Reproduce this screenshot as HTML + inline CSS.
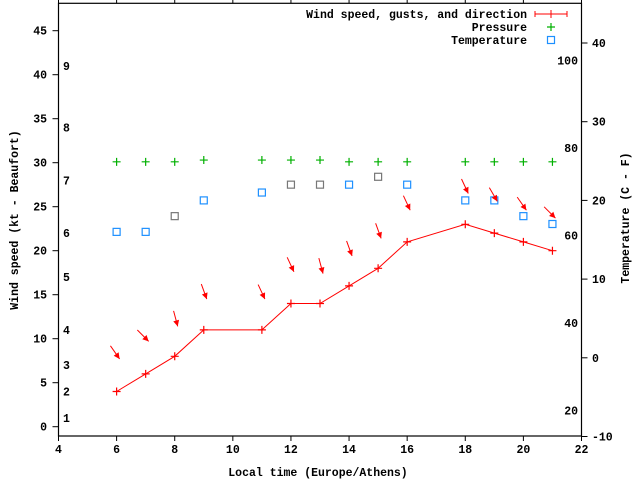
<!DOCTYPE html>
<html><head><meta charset="utf-8"><style>
body{margin:0;background:#fff}
svg{display:block}
text{font-family:"Liberation Mono",monospace;font-weight:bold;font-size:11.5px;fill:#000}
</style></head><body>
<svg id="c" width="640" height="480" xmlns="http://www.w3.org/2000/svg"></svg>
<script>
const hours=[6,7,8,9,11,12,13,14,15,16,18,19,20,21];
const windKt=[4,6,8,11,11,14,14,16,18,21,23,22,21,20];
const gustKt=[7.7,9.7,11.4,14.5,14.5,17.6,17.4,19.4,21.4,24.6,26.5,25.6,24.6,23.7];
const windDirDeg=[35,45,15,20,25,25,15,20,20,25,25,30,35,45];
const pressure=[30.1,30.1,30.1,30.3,30.3,30.3,30.3,30.1,30.1,30.1,30.1,30.1,30.1,30.1];
const tempC=[16,16,18,20,21,22,22,22,23,22,20,20,18,17];
const tempGrey=[0,0,1,0,0,1,1,0,1,0,0,0,0,0];
const xTicks=[4,6,8,10,12,14,16,18,20,22];
const ktTicks=[0,5,10,15,20,25,30,35,40,45];
const cTicks=[-10,0,10,20,30,40];
const fTicks=[20,40,60,80,100];
const beaufortKt=[1,4,7,11,17,22,28,34,41];
const beaufortLbl=["1","2","3","4","5","6","7","8","9"];

const L=58.5,R=581.5,T=3.3,B=436;
const X=h=>L+(h-4)*(R-L)/18;
const Y=k=>426.7-k*8.8;
const YC=c=>436.5-(c+10)*7.87;
const YF=f=>YC((f-32)*5/9);
const svg=document.getElementById('c');
const NS='http://www.w3.org/2000/svg';
function mk(tag,attrs,txt){const e=document.createElementNS(NS,tag);for(const k in attrs)e.setAttribute(k,attrs[k]);if(txt!==undefined)e.textContent=txt;svg.appendChild(e);return e;}

let e;
e=mk('rect',{x:L,y:T,width:R-L,height:B-T,fill:'none',stroke:'#000','stroke-width':1.2});



xTicks.forEach(t=>{
  e=mk('line',{x1:X(t),x2:X(t),y1:B,y2:B+5,stroke:'#000'});
  
  
  e=mk('line',{x1:X(t),x2:X(t),y1:T,y2:T-5,stroke:'#000'});
  
  
  e=mk('text',{x:X(t),y:453,'text-anchor':'middle'},t);
  
  
});
ktTicks.forEach(t=>{
  e=mk('line',{x1:L-6,x2:L,y1:Y(t),y2:Y(t),stroke:'#000'});
  
  
  e=mk('text',{x:47,y:Y(t)+4,'text-anchor':'end'},t);
  
  
});
cTicks.forEach(t=>{
  e=mk('line',{x1:R,x2:R+6,y1:YC(t),y2:YC(t),stroke:'#000'});
  
  
  e=mk('text',{x:T?592:0,y:YC(t)+4},t);
  
  
});
fTicks.forEach(t=>{
  e=mk('text',{x:578,y:YF(t)+4,'text-anchor':'end'},t);
  
  
});
beaufortKt.forEach((k,i)=>{
  e=mk('text',{x:63,y:Y(k)+4},beaufortLbl[i]);
  
  
});

e=mk('text',{x:318,y:476,'text-anchor':'middle'},'Local time (Europe/Athens)');


e=mk('text',{x:0,y:0,'text-anchor':'middle',transform:'translate(18,220) rotate(-90)'},'Wind speed (kt - Beaufort)');


e=mk('text',{x:0,y:0,'text-anchor':'middle',transform:'translate(629,218) rotate(-90)'},'Temperature (C - F)');



// temperature
hours.forEach((h,i)=>{
  e=mk('rect',{x:X(h)-3.5,y:YC(tempC[i])-3.5,width:7,height:7,fill:'none',stroke:tempGrey[i]?'#777':'#1e90ff','stroke-width':1.2});
  
  
});
// pressure
hours.forEach((h,i)=>{
  const x=X(h),y=Y(pressure[i]);
  e=mk('path',{d:`M${x-4},${y}H${x+4}M${x},${y-4}V${y+4}`,stroke:tempGrey[i]&&false?'#777':'#00b000','stroke-width':1.2});
  
  
});
// wind line
e=mk('polyline',{points:hours.map((h,i)=>X(h)+','+Y(windKt[i])).join(' '),fill:'none',stroke:'#f00','stroke-width':1});


hours.forEach((h,i)=>{
  const x=X(h),y=Y(windKt[i]);
  e=mk('path',{d:`M${x-4},${y}H${x+4}M${x},${y-4}V${y+4}`,stroke:'#f00','stroke-width':1.2});
  
  
});
// direction arrows
hours.forEach((h,i)=>{
  const a=windDirDeg[i]*Math.PI/180,len=16;
  const hx=X(h)+3,hy=Y(gustKt[i]);
  const dx=Math.sin(a),dy=Math.cos(a);
  const tx=hx-dx*len,ty=hy-dy*len;
  const px=-dy,py=dx;
  e=mk('line',{x1:tx,y1:ty,x2:hx,y2:hy,stroke:'#f00','stroke-width':1});
  
  
  const bx=hx-dx*6,by=hy-dy*6;
  e=mk('polygon',{points:`${hx},${hy} ${bx+px*3},${by+py*3} ${bx-px*3},${by-py*3}`,fill:'#f00'});
  
  
});

// legend
e=mk('text',{x:527,y:18,'text-anchor':'end'},'Wind speed, gusts, and direction');


e=mk('path',{d:'M535,14H567M535,11V17M567,11V17M551,10V18',stroke:'#f00','stroke-width':1});


e=mk('text',{x:527,y:31,'text-anchor':'end'},'Pressure');


e=mk('path',{d:'M547,27H555M551,23V31',stroke:'#00b000','stroke-width':1.2});


e=mk('text',{x:527,y:44,'text-anchor':'end'},'Temperature');


e=mk('rect',{x:547.5,y:36.5,width:7,height:7,fill:'none',stroke:'#1e90ff','stroke-width':1.2});


</script>
</body></html>
